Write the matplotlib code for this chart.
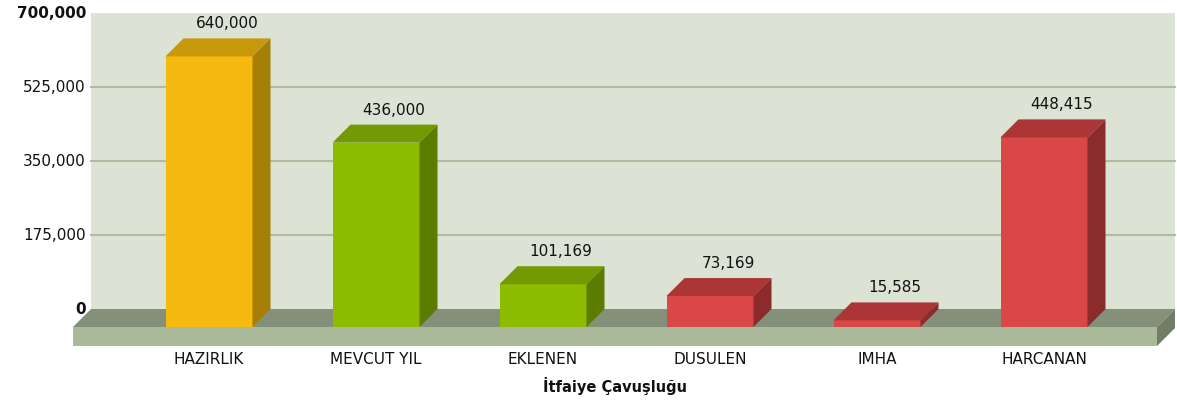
"""
3D-style bar chart for Itfaiye Cavuslugu budget figures
"""
import matplotlib.pyplot as plt
from matplotlib.patches import Polygon, Rectangle

categories = ["HAZIRLIK", "MEVCUT YIL", "EKLENEN", "DUSULEN", "IMHA", "HARCANAN"]
values = [640000, 436000, 101169, 73169, 15585, 448415]
value_labels = ["640,000", "436,000", "101,169", "73,169", "15,585", "448,415"]
bar_kinds = ["yellow", "green", "green", "red", "red", "red"]
y_ticks = [0, 175000, 350000, 525000, 700000]
y_tick_labels = ["0", "175,000", "350,000", "525,000", "700,000"]
x_title = "İtfaiye Çavuşluğu"

# front, top, side shades
COLORS = {
    "yellow": ("#f5b90f", "#c89a0b", "#a67f07"),
    "green": ("#8cbb00", "#739a00", "#5c7c00"),
    "red": ("#d94747", "#ac3535", "#8c2b2b"),
}
WALL = "#dce2d4"
GRID = "#aebd9e"
FLOOR_TOP = "#85907a"
FLOOR_FRONT = "#abb99b"
FLOOR_SIDE = "#737d65"

W, H = 1177, 400
CAT_PX = 167          # pixels between categories
X0_PX = 209           # pixel of first category
ZERO_PX = 327         # pixel row of front zero line
UNIT = 175000 / 74    # value per pixel
DX = 18 / CAT_PX      # depth offset
DY = 18 * UNIT
HW = 43.5 / CAT_PX    # half bar width

fig = plt.figure(figsize=(W / 100, H / 100), dpi=100)
ax = fig.add_axes([0, 0, 1, 1])
ax.set_xlim(-X0_PX / CAT_PX, (W - X0_PX) / CAT_PX)
ax.set_ylim(-(H - ZERO_PX) * UNIT, ZERO_PX * UNIT)
ax.axis("off")

# floor extents
fl = (73 - X0_PX) / CAT_PX
fr = (1157 - X0_PX) / CAT_PX
thick = 19 * UNIT

# back wall + grid
ax.add_patch(Rectangle((fl + DX, DY), fr - fl, y_ticks[-1], facecolor=WALL, edgecolor="none", zorder=0))
for t in y_ticks[1:-1]:
    ax.plot([fl + DX, fr + DX], [t + DY, t + DY], color=GRID, lw=1.5, zorder=0.5)

# floor slab
ax.add_patch(Polygon([(fl, 0), (fl + DX, DY), (fr + DX, DY), (fr, 0)], facecolor=FLOOR_TOP, edgecolor="none", zorder=1))
ax.add_patch(Rectangle((fl, -thick), fr - fl, thick, facecolor=FLOOR_FRONT, edgecolor="none", zorder=1))
ax.add_patch(Polygon([(fr, 0), (fr + DX, DY), (fr + DX, DY - thick), (fr, -thick)], facecolor=FLOOR_SIDE, edgecolor="none", zorder=1))

# y tick labels
for t, lab in zip(y_ticks, y_tick_labels):
    bold = t in (y_ticks[0], y_ticks[-1])
    ax.text(fl + DX - 5 / CAT_PX, t + DY, lab, ha="right", va="center", fontsize=11,
            fontweight="bold" if bold else "normal", color="#111111")

# bars
for i, (v, kind, lab, cat) in enumerate(zip(values, bar_kinds, value_labels, categories)):
    front, top, side = COLORS[kind]
    ax.add_patch(Rectangle((i - HW, 0), 2 * HW, v, facecolor=front, edgecolor="none", zorder=2))
    ax.add_patch(Polygon([(i - HW, v), (i - HW + DX, v + DY), (i + HW + DX, v + DY), (i + HW, v)],
                         facecolor=top, edgecolor="none", zorder=2))
    ax.add_patch(Polygon([(i + HW, 0), (i + HW + DX, DY), (i + HW + DX, v + DY), (i + HW, v)],
                         facecolor=side, edgecolor="none", zorder=2))
    ax.annotate(lab, (i + DX, v + DY), xytext=(0, 5), textcoords="offset points",
                ha="center", va="bottom", fontsize=11, color="#111111", zorder=3)
    ax.text(i, -33 * UNIT, cat, ha="center", va="center", fontsize=11, color="#111111")

ax.text((615 - X0_PX) / CAT_PX, -59 * UNIT, x_title, ha="center", va="center",
        fontsize=10.5, fontweight="bold", color="#111111")

fig.savefig("out.png", dpi=100, facecolor="white")
